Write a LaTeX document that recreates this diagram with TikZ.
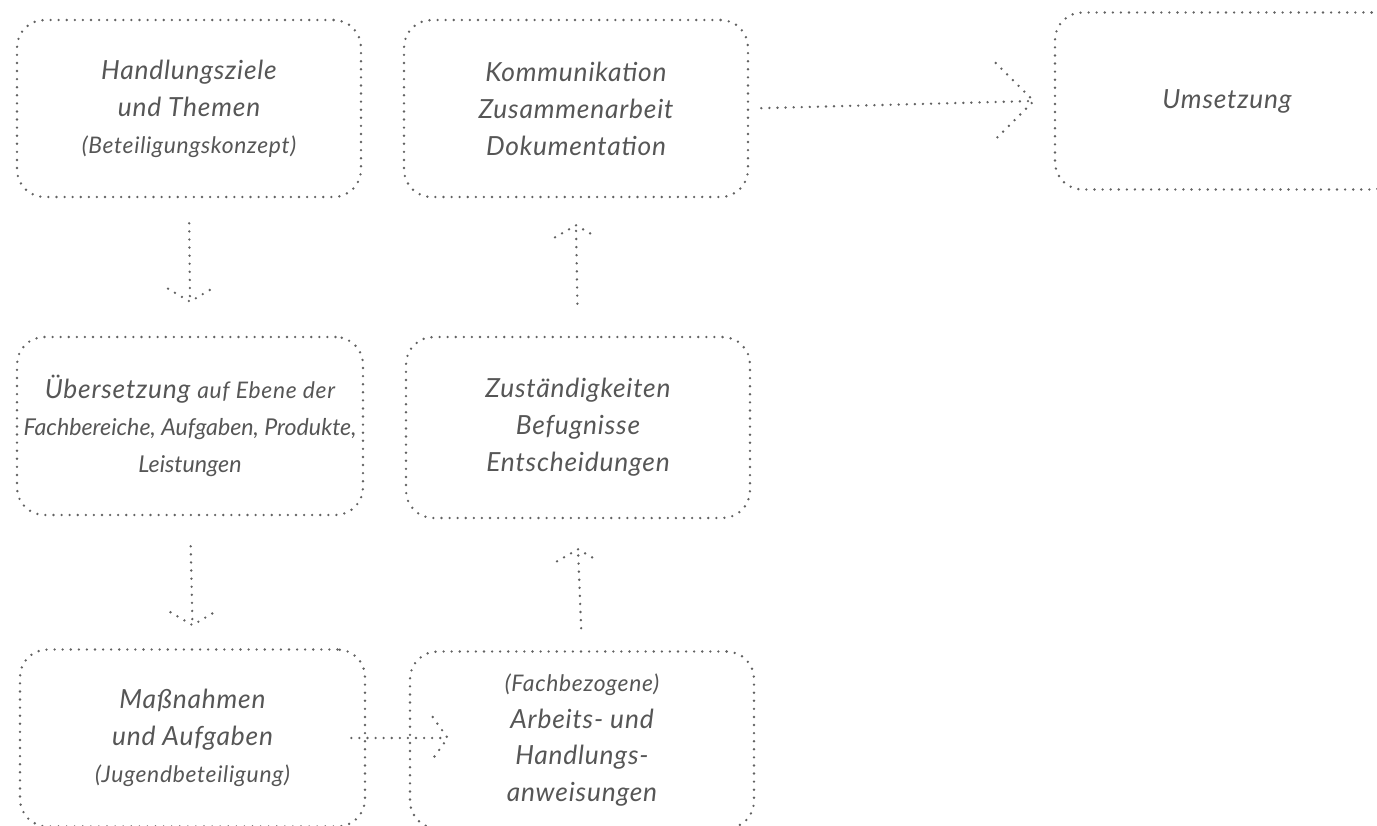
\documentclass[tikz,border=0pt]{standalone}
\usepackage{fontspec}
\setmainfont{Lato}[LetterSpace=3]
\newfontfamily\engfont{Lato}
\usetikzlibrary{positioning}
\definecolor{dotgray}{HTML}{626262}
\definecolor{txtgray}{HTML}{565656}
\newcommand{\klein}{\fontsize{13}{21}\selectfont}
\newcommand{\eng}{\engfont\itshape\fontsize{13.2}{21}\selectfont}

\begin{document}
\begin{tikzpicture}[
    dotline/.style={draw=dotgray, line width=1.5pt, line cap=round, dash pattern=on 0pt off 4.6pt},
    box/.style={dotline, rectangle, rounded corners=0.55cm, minimum width=6.88cm,
        minimum height=3.54cm, inner sep=0pt, align=center, text=txtgray,
        font=\itshape\fontsize{15}{21}\selectfont}
]
\useasboundingbox (0,0) rectangle (27.54,-16.52);
\clip (0,0) rectangle (27.54,-16.52);

% boxes
\node[box] (hz) at (3.78,-2.17) {Handlungsziele\\und Themen\\{\klein(Beteiligungskonzept)}};
\node[box] (kz) at (11.52,-2.17) {Kommunikation\\Zusammenarbeit\\Dokumentation};
\node[box] (um) at (24.54,-2.02) {Umsetzung};
\node[box, minimum width=6.92cm, minimum height=3.56cm] (ue) at (3.80,-8.52)
    {Übersetzung {\klein auf Ebene der}\\{\eng Fachbereiche, Aufgaben, Produkte,}\\{\eng Leistungen}};
\node[box, minimum height=3.62cm] (zb) at (11.56,-8.55) {Zuständigkeiten\\Befugnisse\\Entscheidungen};
\node[box, minimum width=6.9cm] (ma) at (3.85,-14.76) {Maßnahmen\\und Aufgaben\\{\klein(Jugendbeteiligung)}};
\node[box] (fb) at (11.64,-14.80) {{\klein(Fachbezogene)}\\Arbeits- und\\Handlungs-\\anweisungen};

% arrow tips
\coordinate[above=0.68cm of ue] (t1);
\coordinate[below=0.54cm of kz] (t2);
\coordinate[above=0.46cm of ma] (t3);
\coordinate[below=0.6cm of zb] (t4);
\coordinate (t5) at ([xshift=0.78cm]fb.west |- ma.center);
\coordinate[left=0.4cm of um] (t6);

% connectors
\draw[dotline, shorten <=0.5cm] (hz.south) -- (t1);
\draw[dotline] (t1) ++(-0.44,0.26) -- (t1) -- ++(0.44,0.26);
\draw[dotline, shorten <=0.64cm] (zb.north) -- (t2);
\draw[dotline] (t2) ++(-0.42,-0.24) -- (t2) -- ++(0.42,-0.24);
\draw[dotline, shorten <=0.6cm] (ue.south) -- (t3);
\draw[dotline] (t3) ++(-0.44,0.26) -- (t3) -- ++(0.44,0.26);
\draw[dotline, shorten <=0.44cm] (fb.north) -- (t4);
\draw[dotline] (t4) ++(-0.42,-0.24) -- (t4) -- ++(0.42,-0.24);
\draw[dotline] ([xshift=-0.3cm]ma.east) -- (t5);
\draw[dotline] (t5) ++(-0.3,0.42) -- (t5) -- ++(-0.3,-0.42);
\draw[dotline, shorten <=0.24cm] (kz.east) -- (t6);
\draw[dotline] (t6) ++(-0.76,0.76) -- (t6) -- ++(-0.76,-0.76);
\end{tikzpicture}
\end{document}
